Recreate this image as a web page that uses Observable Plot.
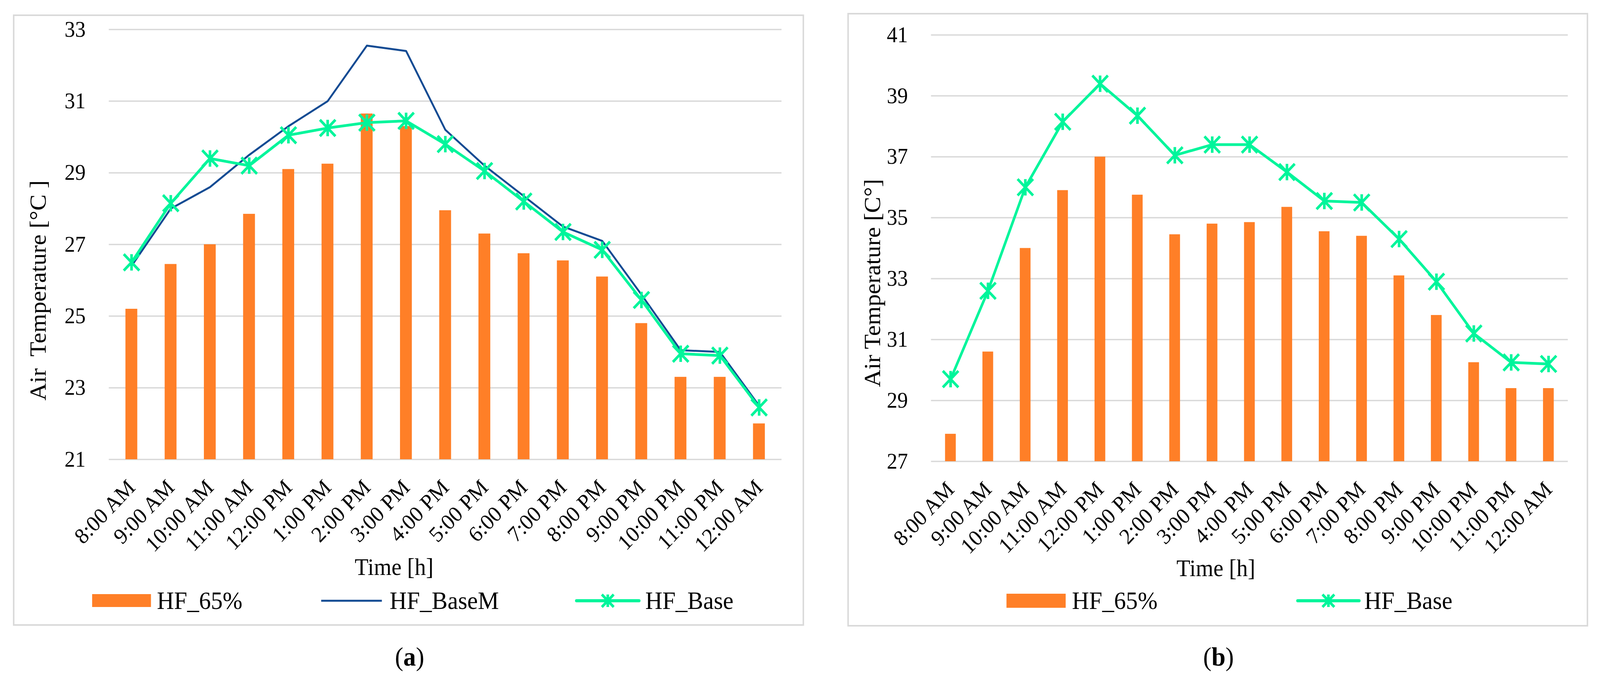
<!DOCTYPE html>
<html><head><meta charset="utf-8">
<script src="https://cdn.jsdelivr.net/npm/d3@7"></script>
<script src="https://cdn.jsdelivr.net/npm/@observablehq/plot@0.6"></script>
<style>
html,body{margin:0;padding:0;background:#fff;overflow:hidden}
#page{position:relative;width:4324px;height:1750px;background:#fff;font-family:"Liberation Serif","Times New Roman",serif;color:#000;overflow:hidden;transform-origin:0 0}
.frame{position:absolute;border:4px solid #d9d9d9;box-sizing:border-box}
.t{position:absolute;height:0;display:flex;align-items:center;white-space:pre;line-height:1}
.plotbox{position:absolute;top:0}
</style></head><body><div id="page"></div>
<script>
// ---- data ----
const times = ["8:00 AM","9:00 AM","10:00 AM","11:00 AM","12:00 PM","1:00 PM","2:00 PM","3:00 PM","4:00 PM","5:00 PM","6:00 PM","7:00 PM","8:00 PM","9:00 PM","10:00 PM","11:00 PM","12:00 AM"];
// panel (a)
const hf65A   = [25.2, 26.45, 27.0, 27.85, 29.1, 29.25, 30.65, 30.3, 27.95, 27.3, 26.75, 26.55, 26.1, 24.8, 23.3, 23.3, 22.0];
const baseMA  = [26.4, 28.0, 28.6, 29.5, 30.3, 31.0, 32.55, 32.4, 30.2, 29.2, 28.35, 27.5, 27.1, 25.6, 24.05, 24.0, 22.5];
const baseA   = [26.5, 28.15, 29.4, 29.2, 30.05, 30.25, 30.4, 30.45, 29.8, 29.05, 28.2, 27.35, 26.85, 25.45, 23.95, 23.9, 22.45];
const ticksA  = [21, 23, 25, 27, 29, 31, 33];
// panel (b)
const hf65B   = [27.9, 30.6, 34.0, 35.9, 37.0, 35.75, 34.45, 34.8, 34.85, 35.35, 34.55, 34.4, 33.1, 31.8, 30.25, 29.4, 29.4];
const baseB   = [29.7, 32.6, 36.0, 38.15, 39.4, 38.35, 37.05, 37.4, 37.4, 36.5, 35.55, 35.5, 34.3, 32.9, 31.2, 30.25, 30.2];
const ticksB  = [27, 29, 31, 33, 35, 37, 39, 41];
const seriesNames = ["HF_65%", "HF_BaseM", "HF_Base"];

// ---- styles ----
const ORANGE = "#FF7F27", BLUE = "#134B93", GREEN = "#00F59B", GRID = "#d9d9d9";
const FONT = "Liberation Serif";

const asterisk = {
  draw(ctx, size) {
    const r = Math.sqrt(size / Math.PI);
    ctx.moveTo(0, -r); ctx.lineTo(0, r);
    ctx.moveTo(-r, -r); ctx.lineTo(r, r);
    ctx.moveTo(-r, r); ctx.lineTo(r, -r);
  }
};

const page = document.getElementById("page");
// fit the 4324-wide design into the actual viewport width
const kx = Math.min(1, (window.innerWidth || 4324) / 4324);
page.style.transform = `scale(${kx}, 1)`;

function frame(x1, y1, x2, y2) {
  const d = document.createElement("div");
  d.className = "frame";
  Object.assign(d.style, {left: x1 + "px", top: y1 + "px", width: (x2 - x1) + "px", height: (y2 - y1) + "px"});
  page.appendChild(d);
}
function text(str, x, cy, size, anchor = "start", extra = {}) {
  const d = document.createElement("div");
  d.className = "t";
  d.textContent = str;
  Object.assign(d.style, {left: x + "px", top: cy + "px", fontSize: size + "px"});
  if (anchor === "middle") d.style.transform = "translateX(-50%)";
  Object.assign(d.style, extra);
  page.appendChild(d);
  return d;
}
function vtext(str, cx, cy, size) {
  const d = document.createElement("div");
  d.textContent = str;
  Object.assign(d.style, {position: "absolute", left: cx + "px", top: cy + "px", fontSize: size + "px",
    whiteSpace: "pre", lineHeight: "1", transform: "translate(-50%,-50%) rotate(-90deg)"});
  page.appendChild(d);
}
function swatchRect(x1, y1, x2, y2, color) {
  const d = document.createElement("div");
  Object.assign(d.style, {position: "absolute", left: x1 + "px", top: y1 + "px", width: (x2 - x1) + "px", height: (y2 - y1) + "px", background: color});
  page.appendChild(d);
}
function swatchLine(x1, x2, cy, color, w, marker) {
  const ns = "http://www.w3.org/2000/svg";
  const svg = document.createElementNS(ns, "svg");
  const h = 50;
  svg.setAttribute("width", x2 - x1 + 10); svg.setAttribute("height", h);
  Object.assign(svg.style, {position: "absolute", left: (x1 - 5) + "px", top: (cy - h / 2) + "px", overflow: "visible"});
  const l = document.createElementNS(ns, "line");
  l.setAttribute("x1", 5); l.setAttribute("x2", x2 - x1 + 5); l.setAttribute("y1", h / 2); l.setAttribute("y2", h / 2);
  l.setAttribute("stroke", color); l.setAttribute("stroke-width", w); l.setAttribute("stroke-linecap", marker ? "round" : "butt");
  svg.appendChild(l);
  if (marker) {
    const p = document.createElementNS(ns, "path");
    const r = 16, c = (x2 - x1) / 2 + 5, m = h / 2;
    p.setAttribute("d", `M${c},${m - r}L${c},${m + r}M${c - r},${m - r}L${c + r},${m + r}M${c - r},${m + r}L${c + r},${m - r}`);
    p.setAttribute("stroke", color); p.setAttribute("stroke-width", 7); p.setAttribute("fill", "none");
    svg.appendChild(p);
  }
  page.appendChild(svg);
}

function panel({left, width, mL, mR, mT, yBase, ticks, rows, hasBaseM, padIn}) {
  const height = 1500;
  const marks = [
    Plot.ruleY(ticks, {stroke: GRID, strokeWidth: 3.5}),
    Plot.barY(rows, {x: "time", y1: ticks[0], y2: "hf65", fill: ORANGE}),
  ];
  if (hasBaseM) marks.push(Plot.line(rows, {x: "time", y: "baseM", stroke: BLUE, strokeWidth: 5, strokeLinejoin: "round"}));
  marks.push(Plot.line(rows, {x: "time", y: "base", stroke: GREEN, strokeWidth: 7, strokeLinejoin: "round"}));
  marks.push(Plot.dot(rows, {x: "time", y: "base", symbol: asterisk, r: 21, stroke: GREEN, strokeWidth: 7, fill: "none"}));
  marks.push(Plot.axisY(ticks, {tickSize: 0, tickPadding: 63, fontSize: 57, label: null, tickFormat: d => String(d)}));
  marks.push(Plot.axisX({tickSize: 0, tickPadding: 62, tickRotate: -45, fontSize: 57, label: null}));
  const svg = Plot.plot({
    width, height,
    marginLeft: mL, marginRight: mR, marginTop: mT, marginBottom: height - yBase,
    style: {fontFamily: FONT, fontSize: "57px", color: "#000", background: "transparent", overflow: "visible"},
    x: {domain: times, paddingInner: padIn, paddingOuter: padIn / 2, align: 0.5, label: null},
    y: {domain: [ticks[0], ticks[ticks.length - 1]], label: null},
    marks
  });
  const box = document.createElement("div");
  box.className = "plotbox";
  box.style.left = left + "px";
  box.appendChild(svg);
  page.appendChild(box);
}

const rowsA = times.map((t, i) => ({time: t, hf65: hf65A[i], baseM: baseMA[i], base: baseA[i]}));
const rowsB = times.map((t, i) => ({time: t, hf65: hf65B[i], base: baseB[i]}));

// frames
frame(35, 37, 2173, 1601);
frame(2290, 33, 4292, 1603);

panel({left: 0, width: 2200, mL: 294, mR: 88, mT: 75, yBase: 1175, ticks: ticksA, rows: rowsA, hasBaseM: true, padIn: 0.7});
panel({left: 2200, width: 2124, mL: 316, mR: 87, mT: 89, yBase: 1180, ticks: ticksB, rows: rowsB, hasBaseM: false, padIn: 0.71});

// axis titles
vtext("Air  Temperature [°C ]", 102, 743, 62);
vtext("Air Temperature [C°]", 2357, 724, 62);
text("Time [h]", 1065, 1450, 61, "middle");
text("Time [h]", 3286, 1453, 61, "middle");

// legends (a)
swatchRect(249, 1520, 408, 1553, ORANGE);
text(seriesNames[0], 424, 1537, 64);
swatchLine(868, 1032, 1537, BLUE, 5, false);
text(seriesNames[1], 1053, 1537, 64);
swatchLine(1558, 1727, 1537, GREEN, 8, true);
text(seriesNames[2], 1744, 1537, 64);
// legends (b)
swatchRect(2720, 1519, 2880, 1555, ORANGE);
text(seriesNames[0], 2897, 1537, 64);
swatchLine(3507, 3673, 1537, GREEN, 8, true);
text(seriesNames[2], 3687, 1537, 64);

// panel captions
const ca = text("(a)", 1107, 1680, 68, "middle");
ca.innerHTML = "(<b>a</b>)";
const cb = text("(b)", 3293, 1680, 68, "middle");
cb.innerHTML = "(<b>b</b>)";
</script>
</body></html>
